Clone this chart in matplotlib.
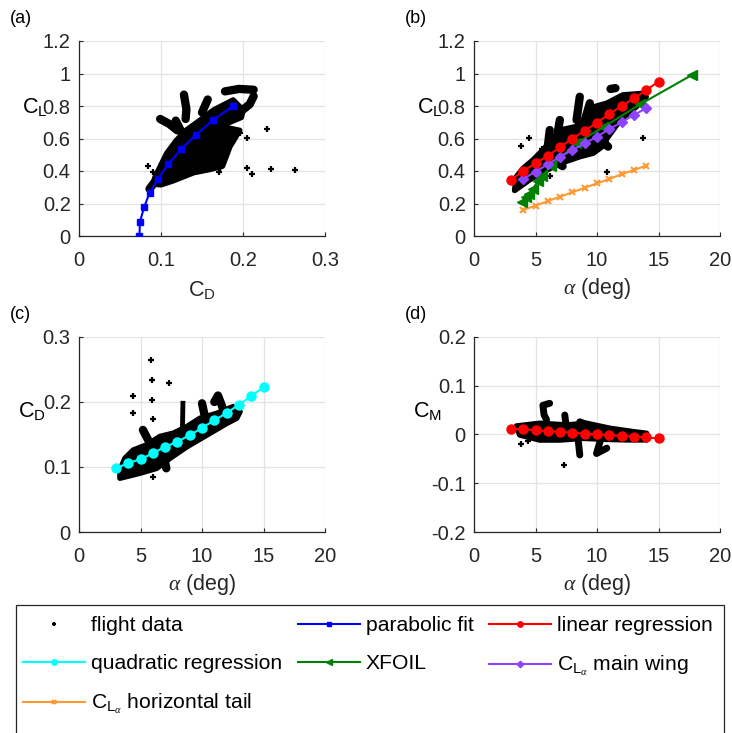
import matplotlib.pyplot as plt
from matplotlib.patches import Rectangle

plt.rcParams['font.family'] = ['Liberation Sans', 'DejaVu Sans']
plt.rcParams['mathtext.fontset'] = 'custom'
plt.rcParams['mathtext.rm'] = 'Liberation Sans'
plt.rcParams['mathtext.it'] = 'Liberation Serif:italic'

# ---- (a) CL vs CD ----
cd_parab = [0.0736, 0.0744, 0.0793, 0.0862, 0.0963, 0.109, 0.1244, 0.143, 0.1638, 0.188]
cl_parab = [0.0, 0.088, 0.176, 0.267, 0.353, 0.443, 0.533, 0.624, 0.714, 0.80]

cd_out_a = [0.0846, 0.0907, 0.172, 0.171, 0.2045, 0.2106, 0.234, 0.264, 0.229, 0.2045, 0.192, 0.196, 0.187, 0.16]
cl_out_a = [0.433, 0.396, 0.416, 0.392, 0.416, 0.382, 0.412, 0.406, 0.658, 0.605, 0.64, 0.636, 0.626, 0.427]

# outline of the dense flight data cloud
cd_body_a = [0.090, 0.100, 0.115, 0.125, 0.140, 0.160, 0.175, 0.184, 0.190, 0.196, 0.172,
             0.198, 0.200, 0.188, 0.164, 0.148, 0.131, 0.119, 0.107, 0.099, 0.093]
cl_body_a = [0.32, 0.315, 0.34, 0.36, 0.39, 0.41, 0.43, 0.55, 0.60, 0.65, 0.675,
             0.73, 0.775, 0.837, 0.775, 0.714, 0.652, 0.59, 0.509, 0.427, 0.365]
tracks_a = [
    ([0.178, 0.195, 0.213], [0.89, 0.905, 0.90]),
    ([0.213, 0.208, 0.198], [0.86, 0.81, 0.77]),
    ([0.128, 0.131, 0.130], [0.87, 0.78, 0.72]),
    ([0.099, 0.110, 0.120], [0.72, 0.69, 0.65]),
    ([0.118, 0.122, 0.126], [0.71, 0.67, 0.63]),
    ([0.157, 0.150], [0.84, 0.76]),
    ([0.086, 0.092], [0.29, 0.33]),
]

# ---- (b) CL vs alpha ----
alpha_lin = [3, 4, 5, 6, 7, 8, 9, 10, 11, 12, 13, 14, 15]
cl_lin = [0.345, 0.40, 0.447, 0.494, 0.546, 0.60, 0.648, 0.697, 0.751, 0.80, 0.847, 0.898, 0.95]

alpha_xfoil = [3.9, 4.2, 4.5, 4.8, 5.2, 5.5, 6.3, 8.3, 10.5, 13.5, 17.7]
cl_xfoil = [0.21, 0.24, 0.26, 0.29, 0.34, 0.37, 0.43, 0.57, 0.67, 0.81, 0.99]

alpha_wing = [4, 5, 6, 7, 8, 9, 10, 11, 12, 13, 14]
cl_wing = [0.351, 0.396, 0.441, 0.488, 0.529, 0.57, 0.611, 0.658, 0.70, 0.745, 0.786]

alpha_tail = [4, 5, 6, 7, 8, 9, 10, 11, 12, 13, 14]
cl_tail = [0.16, 0.187, 0.215, 0.242, 0.269, 0.297, 0.324, 0.351, 0.38, 0.406, 0.433]

alpha_out_b = [3.85, 4.45, 5.56, 6.16, 10.83, 13.76]
cl_out_b = [0.556, 0.601, 0.535, 0.371, 0.392, 0.605]

alpha_body_b = [3.3, 4.5, 5.9, 7.0, 8.6, 9.7, 10.6, 10.8, 11.9, 13.2, 14.0, 13.8, 12.1,
                10.8, 9.8, 9.15, 8.3, 7.0, 6.2, 5.6, 4.8, 4.0, 3.45]
cl_body_b = [0.28, 0.345, 0.405, 0.447, 0.488, 0.51, 0.56, 0.60, 0.714, 0.796, 0.857, 0.878, 0.868,
             0.817, 0.796, 0.714, 0.673, 0.652, 0.58, 0.529, 0.468, 0.417, 0.365]
tracks_b = [
    ([8.6, 8.34], [0.857, 0.714]),
    ([9.42, 8.85], [0.817, 0.673]),
    ([6.98, 6.8], [0.714, 0.634]),
    ([6.16, 6.0], [0.652, 0.55]),
    ([11.1, 11.5], [0.905, 0.91]),
    ([10.2, 10.9], [0.60, 0.55]),
    ([6.8, 7.2], [0.45, 0.43]),
]

# ---- (c) CD vs alpha ----
alpha_quad = [3, 4, 5, 6, 7, 8, 9, 10, 11, 12, 13, 14, 15]
cd_quad = [0.098, 0.106, 0.112, 0.121, 0.131, 0.139, 0.149, 0.160, 0.172, 0.183, 0.196, 0.209, 0.223]

alpha_out_c = [4.42, 4.42, 5.85, 5.9, 5.96, 6.0, 7.35, 6.04]
cd_out_c = [0.21, 0.183, 0.264, 0.2335, 0.203, 0.174, 0.229, 0.084]

alpha_body_c = [3.33, 4.96, 6.32, 7.4, 8.76, 10.38, 12.0, 12.82, 13.09, 12.55,
                11.2, 9.84, 8.76, 7.67, 6.59, 5.5, 4.41, 3.74, 3.33]
cd_body_c = [0.0828, 0.0905, 0.098, 0.1135, 0.131, 0.149, 0.167, 0.175, 0.185, 0.193,
             0.1825, 0.175, 0.162, 0.152, 0.147, 0.134, 0.126, 0.1135, 0.0955]
tracks_c = [
    ([11.0, 11.3, 11.7], [0.200, 0.210, 0.190]),
    ([10.0, 10.3], [0.198, 0.172]),
    ([5.2, 5.75], [0.157, 0.137]),
    ([6.8, 7.1], [0.126, 0.098]),
]
column_c = ([8.4, 8.45], [0.15, 0.198])

# ---- (d) CM vs alpha ----
alpha_cm = [3, 4, 5, 6, 7, 8, 9, 10, 11, 12, 13, 14, 15]
cm_lin = [0.012, 0.0106, 0.0085, 0.007, 0.005, 0.0038, 0.0017, 0.0003, -0.001, -0.003, -0.0045, -0.006, -0.008]

alpha_out_d = [3.85, 4.4, 7.33]
cm_out_d = [-0.019, -0.014, -0.063]

alpha_body_d = [3.45, 5.35, 7.52, 9.15, 11.05, 12.94, 14.03, 14.03, 12.4, 10.78, 8.87, 6.98, 5.35, 3.72]
cm_body_d = [0.0174, 0.023, 0.0195, 0.023, 0.0127, 0.0058, 0.0024, -0.011, -0.011, -0.0099, -0.0078, -0.0113, -0.0113, -0.001]
tracks_d = [
    ([6.15, 5.6, 5.7, 5.9], [0.064, 0.06, 0.04, 0.030]),
    ([7.38, 7.5], [0.040, 0.016]),
    ([8.6, 9.0], [0.026, 0.022]),
    ([8.47, 8.6], [-0.011, -0.042]),
    ([10.3, 9.96, 10.8], [-0.01, -0.039, -0.028]),
]

c_purple = '#8c44ff'
c_orange = '#ff9933'
c_green = '#008000'
c_cyan = '#00ffff'
gray = '#262626'

fig = plt.figure(figsize=(7.32, 7.33), dpi=100)
W, H = 732.0, 733.0


def make_ax(l, r, t, b):
    return fig.add_axes([l / W, 1 - b / H, (r - l) / W, (b - t) / H])


ax_a = make_ax(79, 325, 41, 236)
ax_b = make_ax(474, 720, 41, 236)
ax_c = make_ax(79, 325, 337, 532)
ax_d = make_ax(474, 720, 337, 532)


def style(ax, xlim, xticks, ylim, yticks, ylab, ylab_pos, xlab, xpad, tag):
    ax.set_xlim(xlim)
    ax.set_ylim(ylim)
    ax.set_xticks(xticks)
    ax.set_yticks(yticks)
    ax.set_xticklabels([f'{v:g}' for v in xticks])
    ax.set_yticklabels([f'{v:g}' for v in yticks])
    ax.grid(True, color='#e3e3e3', lw=0.9)
    ax.set_axisbelow(True)
    for s in ['top', 'right']:
        ax.spines[s].set_visible(False)
    for s in ['left', 'bottom']:
        ax.spines[s].set_color(gray)
        ax.spines[s].set_linewidth(0.9)
    ax.tick_params(direction='in', length=3, colors=gray, labelsize=14.5)
    ax.tick_params(axis='x', pad=11)
    ax.tick_params(axis='y', pad=6)
    ax.set_ylabel(ylab, rotation=0, fontsize=15.5, color='k', ha='center', va='center')
    ax.yaxis.set_label_coords(*ylab_pos)
    ax.set_xlabel(xlab, fontsize=15.5, color=gray, labelpad=xpad)
    ax.text(-0.28, 1.115, tag, transform=ax.transAxes, fontsize=13, ha='left', va='center')


def draw_flight(ax, bx, by, tracks, xo, yo, lw=6):
    ax.fill(bx, by, facecolor='k', edgecolor='k', lw=4, joinstyle='round', zorder=2)
    for tx, ty in tracks:
        ax.plot(tx, ty, '-', color='k', lw=lw, solid_capstyle='round', zorder=2)
    return ax.plot(xo, yo, '+', color='k', ms=5, mew=1.6, ls='none', zorder=2)[0]


h_flight = draw_flight(ax_a, cd_body_a, cl_body_a, tracks_a, cd_out_a, cl_out_a)
h_parab, = ax_a.plot(cd_parab, cl_parab, '-s', color='b', lw=1.5, ms=4.5, zorder=3)
style(ax_a, (0, 0.3), [0, 0.1, 0.2, 0.3], (0, 1.2), [0, 0.2, 0.4, 0.6, 0.8, 1, 1.2],
      r'$\mathrm{C}_\mathrm{L}$', (-0.18, 0.66), r'$\mathrm{C}_\mathrm{D}$', 6, '(a)')

draw_flight(ax_b, alpha_body_b, cl_body_b, tracks_b, alpha_out_b, cl_out_b)
h_tail, = ax_b.plot(alpha_tail, cl_tail, '-x', color=c_orange, lw=1.5, ms=4, mew=1.5, zorder=3)
h_xfoil, = ax_b.plot(alpha_xfoil, cl_xfoil, '-<', color=c_green, lw=1.5, ms=7, zorder=3)
h_wing, = ax_b.plot(alpha_wing, cl_wing, '-D', color=c_purple, lw=1.5, ms=5.5, zorder=4)
h_lin, = ax_b.plot(alpha_lin, cl_lin, '-o', color='r', lw=1.5, ms=6.5, zorder=5)
style(ax_b, (0, 20), [0, 5, 10, 15, 20], (0, 1.2), [0, 0.2, 0.4, 0.6, 0.8, 1, 1.2],
      r'$\mathrm{C}_\mathrm{L}$', (-0.18, 0.66), r'$\alpha$ (deg)', 4, '(b)')

draw_flight(ax_c, alpha_body_c, cd_body_c, tracks_c, alpha_out_c, cd_out_c)
ax_c.plot(*column_c, '-', color='k', lw=3.5, zorder=2)
h_quad, = ax_c.plot(alpha_quad, cd_quad, '-o', color=c_cyan, lw=1.5, ms=6.5, zorder=3)
style(ax_c, (0, 20), [0, 5, 10, 15, 20], (0, 0.3), [0, 0.1, 0.2, 0.3],
      r'$\mathrm{C}_\mathrm{D}$', (-0.19, 0.62), r'$\alpha$ (deg)', 4, '(c)')

draw_flight(ax_d, alpha_body_d, cm_body_d, tracks_d, alpha_out_d, cm_out_d, lw=5)
ax_d.plot(alpha_cm, cm_lin, '-o', color='r', lw=1.5, ms=6.5, zorder=3)
style(ax_d, (0, 20), [0, 5, 10, 15, 20], (-0.2, 0.2), [-0.2, -0.1, 0, 0.1, 0.2],
      r'$\mathrm{C}_\mathrm{M}$', (-0.19, 0.62), r'$\alpha$ (deg)', 4, '(d)')

# legend box drawn separately, it runs past the bottom of the figure
fig.patches.append(Rectangle((16 / W, -0.01), (724 - 16) / W, (733 - 605) / H + 0.01,
                             transform=fig.transFigure, fill=False, ec=gray, lw=0.9))

# legend fills column by column, so order is arranged to read row by row
handles = [h_flight, h_quad, h_tail, h_parab, h_xfoil, h_lin, h_wing]
labels = ['flight data', 'quadratic regression',
          r'$\mathrm{C}_{\mathrm{L}_\alpha}$ horizontal tail',
          'parabolic fit', 'XFOIL', 'linear regression',
          r'$\mathrm{C}_{\mathrm{L}_\alpha}$ main wing']
fig.legend(handles, labels, ncol=3, loc='upper left',
           bbox_to_anchor=(23 / W, 1 - 616 / H), frameon=False,
           fontsize=15.2, handlelength=2.96, handletextpad=0.28, columnspacing=0.71,
           labelspacing=0.9, markerscale=0.6, borderpad=0, borderaxespad=0)

fig.savefig('out.png', dpi=100)
